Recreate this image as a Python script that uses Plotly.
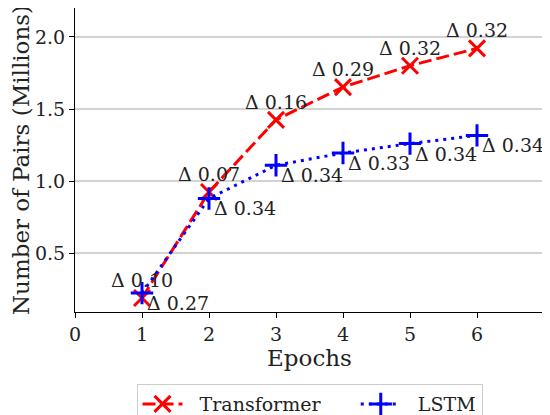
import plotly.graph_objects as go

epochs = [1, 2, 3, 4, 5, 6]
transformer = [0.19, 0.925, 1.425, 1.652, 1.80, 1.92]
lstm = [0.224, 0.88, 1.11, 1.195, 1.26, 1.317]
transformer_delta = [0.10, 0.07, 0.16, 0.29, 0.32, 0.32]
lstm_delta = [0.27, 0.34, 0.34, 0.33, 0.34, 0.34]
x_ticks = [0, 1, 2, 3, 4, 5, 6, 7]
y_ticks = [0.5, 1.0, 1.5, 2.0]
series_names = ["Transformer", "LSTM"]

FONT = "DejaVu Serif"
FS = 19
NB = "\u00a0"

fig = go.Figure()
fig.add_trace(go.Scatter(
    x=epochs, y=transformer, name=NB * 2 + series_names[0] + NB * 5, mode="lines+markers",
    line=dict(color="#ff0000", width=3, dash="13px,5px"),
    marker=dict(symbol="x-thin-open", size=16, line=dict(color="#ff0000", width=3), color="#ff0000"),
))
fig.add_trace(go.Scatter(
    x=epochs, y=lstm, name=NB * 2 + series_names[1], mode="lines+markers",
    line=dict(color="#0000ff", width=3, dash="3px,5px"),
    marker=dict(symbol="cross-thin-open", size=16, line=dict(color="#0000ff", width=3), color="#0000ff"),
))

annotations = []
for x, y, d in zip(epochs, transformer, transformer_delta):
    annotations.append(dict(x=x, y=y, xref="x", yref="y", text=f"Δ {d:.2f}",
                            showarrow=False, xanchor="center", yanchor="bottom", yshift=5,
                            font=dict(family=FONT, size=FS, color="#222")))
for x, y, d in zip(epochs, lstm, lstm_delta):
    annotations.append(dict(x=x, y=y, xref="x", yref="y", text=f"Δ {d:.2f}",
                            showarrow=False, xanchor="left", yanchor="middle", xshift=3, yshift=-10,
                            font=dict(family=FONT, size=FS, color="#222")))

fig.update_layout(
    width=542, height=407,
    margin=dict(l=67, r=6, t=0, b=103, autoexpand=False),
    paper_bgcolor="white", plot_bgcolor="white",
    font=dict(family=FONT, size=FS, color="#222"),
    annotations=annotations,
    showlegend=True,
    legend=dict(orientation="h", x=0.5, xanchor="center", y=-0.237, yanchor="top",
                bordercolor="#cccccc", borderwidth=1, font=dict(family=FONT, size=FS),
                itemwidth=40),
)
fig.update_xaxes(
    range=[0, 7], tickvals=x_ticks, showgrid=False, zeroline=False, automargin=False,
    showline=True, linecolor="black", linewidth=1.2, ticks="outside", ticklen=5,
    tickcolor="black", title=dict(text="Epochs", standoff=3),
)
fig.update_yaxes(
    range=[0.093, 2.2], tickvals=y_ticks, tickformat=".1f", showgrid=True,
    gridcolor="#d3d3d3", gridwidth=1.5, zeroline=False, automargin=False,
    showline=True, linecolor="black", linewidth=1.2, ticks="outside", ticklen=5,
    tickcolor="black", title=dict(text="Number of Pairs (Millions)", standoff=7),
)

fig.write_html("out.html")
